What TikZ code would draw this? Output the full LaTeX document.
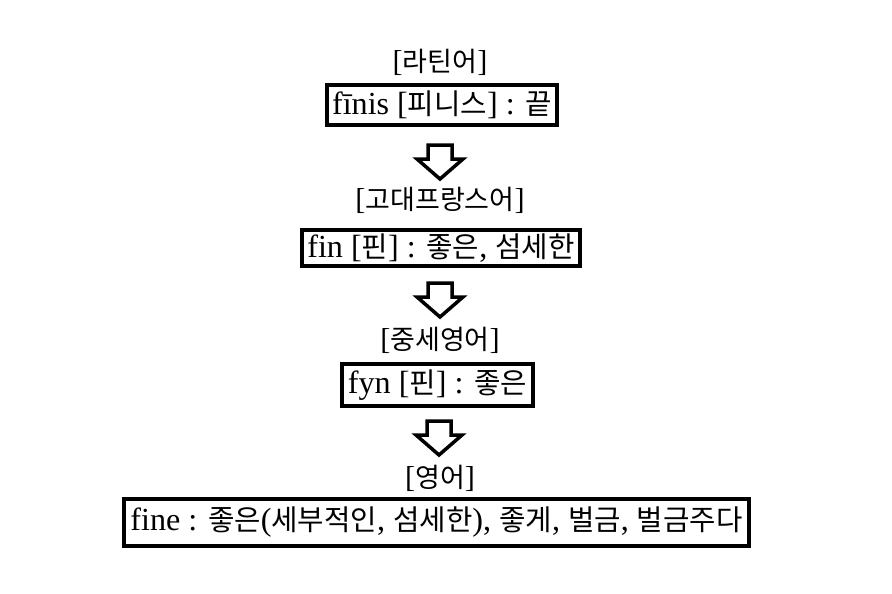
\documentclass[tikz,border=0pt]{standalone}
\usepackage{fontspec}
\setmainfont[Scale=1.12]{Liberation Serif}
\newfontfamily\cjk{Noto Sans CJK KR}
\newcommand\kr[1]{{\cjk #1}}
\begin{document}
\begin{tikzpicture}[x=1pt,y=-1pt,
  boxnode/.style={draw=black,line width=4pt,fill=white,inner sep=0pt,font=\fontsize{28.7}{32}\selectfont,anchor=center},
  labelnode/.style={font=\fontsize{27}{30}\selectfont,inner sep=0pt},
  arrowline/.style={draw=black,line width=3.5pt,fill=white,line join=miter},
  pics/blockarrow/.style={code={
    \draw[arrowline] (-12,0) -- (12,0) -- (12,14) -- (23,14) -- (0,34) -- (-23,14) -- (-12,14) -- cycle;}}
]
\useasboundingbox (0,0) rectangle (892,594);
\fill[white] (0,0) rectangle (892,594);

\node[labelnode] (l1) at (440,62) {[\kr{라틴어}]};
\node[boxnode,minimum width=230pt,minimum height=39pt] (b1) at (442,105) {fīnis [\kr{피니스}] : \kr{끝}};
\pic at (440,145) {blockarrow};

\node[labelnode] (l2) at (440,200) {[\kr{고대프랑스어}]};
\node[boxnode,minimum width=278pt,minimum height=36pt] (b2) at (441,248) {fin [\kr{핀}] : \kr{좋은}, \kr{섬세한}};
\pic at (440,283) {blockarrow};

\node[labelnode] (l3) at (440,340) {[\kr{중세영어}]};
\node[boxnode,minimum width=191pt,minimum height=42pt] (b3) at (437.5,385) {fyn [\kr{핀}] : \kr{좋은}};
\pic at (439,421) {blockarrow};

\node[labelnode] (l4) at (440,478) {[\kr{영어}]};
\node[boxnode,minimum width=625pt,minimum height=47pt] (b4) at (436.5,522.5) {fine : \kr{좋은}(\kr{세부적인}, \kr{섬세한}), \kr{좋게}, \kr{벌금}, \kr{벌금주다}};
\end{tikzpicture}
\end{document}
